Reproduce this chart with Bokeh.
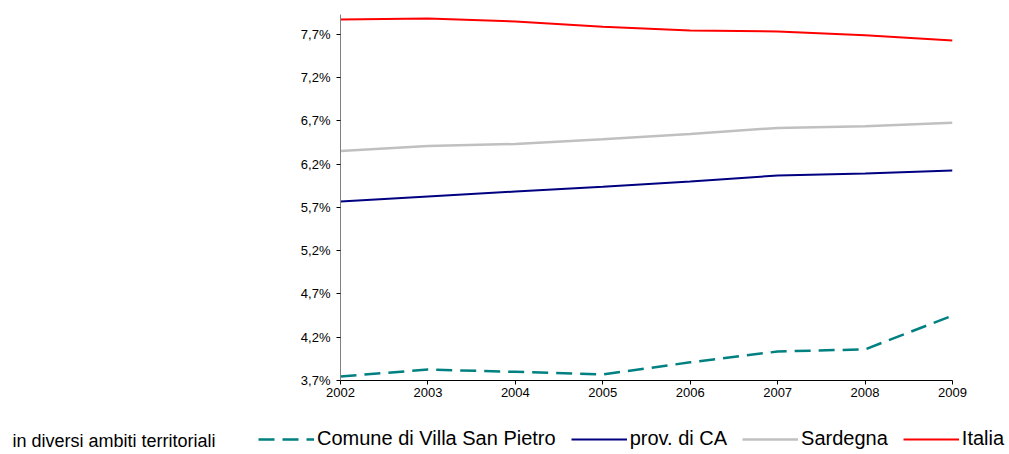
import numpy as np
from bokeh.plotting import figure
from bokeh.layouts import column
from bokeh.models import FixedTicker, Range1d, Legend, LegendItem, Label
from bokeh.embed import file_html
from bokeh.resources import INLINE

years = [2002, 2003, 2004, 2005, 2006, 2007, 2008, 2009]
comune = [3.746, 3.827, 3.800, 3.770, 3.910, 4.035, 4.060, 4.450]
prov_ca = [5.770, 5.827, 5.885, 5.940, 6.000, 6.070, 6.093, 6.128]
sardegna = [6.353, 6.410, 6.434, 6.490, 6.550, 6.620, 6.640, 6.680]
italia = [7.873, 7.885, 7.850, 7.790, 7.746, 7.735, 7.690, 7.630]
y_ticks = [3.7, 4.2, 4.7, 5.2, 5.7, 6.2, 6.7, 7.2, 7.7]
y_labels = ["3,7%", "4,2%", "4,7%", "5,2%", "5,7%", "6,2%", "6,7%", "7,2%", "7,7%"]
series_names = ["Comune di Villa San Pietro", "prov. di CA", "Sardegna", "Italia"]
note_text = "in diversi ambiti territoriali"

FONT = "Liberation Sans"
W = 1007
styles = [dict(line_color="#008080", line_width=2.5, line_dash="16 8"),
          dict(line_color="#000080", line_width=2),
          dict(line_color="#C0C0C0", line_width=2.5),
          dict(line_color="#FF0000", line_width=2)]

p = figure(width=W, height=402, output_backend="svg", toolbar_location=None,
           x_range=Range1d(2002, 2009), y_range=Range1d(3.7, 7.931),
           min_border_left=340, min_border_right=W - 952, min_border_top=14, min_border_bottom=22)
p.outline_line_color = None
p.grid.visible = False
p.frame_align = False

for vals, st in zip([comune, prov_ca, sardegna, italia], styles):
    p.line(years, vals, **st)

p.yaxis.ticker = FixedTicker(ticks=y_ticks)
p.yaxis.major_label_overrides = {t: l for t, l in zip(y_ticks, y_labels)}
p.xaxis.ticker = FixedTicker(ticks=years)
for ax in (p.xaxis, p.yaxis):
    ax.major_label_text_font = FONT
    ax.major_label_text_font_size = "13px"
    ax.major_label_text_color = "#000000"
    ax.minor_tick_line_color = None
    ax.major_tick_in = 0
    ax.major_tick_out = 4
    ax.axis_line_color = "#000000"
    ax.major_tick_line_color = "#000000"
p.yaxis.axis_line_color = "#808080"
p.yaxis.major_label_standoff = 6
p.xaxis.major_label_standoff = 3

# Legend strip (legend glyphs need a renderer; NaN data draws nothing)
q = figure(width=W, height=50, output_backend="svg", toolbar_location=None,
           x_range=Range1d(0, 1), y_range=Range1d(0, 1),
           min_border_left=0, min_border_right=0, min_border_top=0, min_border_bottom=0)
q.outline_line_color = None
q.grid.visible = False
q.axis.visible = False
q.frame_align = False
nan = np.array([np.nan])
rs = [q.line(x=nan, y=nan, **st) for st in styles]

legend = Legend(items=[LegendItem(label=n, renderers=[r]) for n, r in zip(series_names, rs)],
                orientation="horizontal", location=(258, 2),
                glyph_width=56, glyph_height=20, label_standoff=3, spacing=15,
                padding=0, margin=0, border_line_color=None, background_fill_alpha=0,
                label_text_font=FONT, label_text_font_size="20px", label_height=20,
                label_text_color="#000000")
q.add_layout(legend)
q.add_layout(Label(x=12, y=12, x_units="screen", y_units="screen", text=note_text,
                   text_font=FONT, text_font_size="18px", text_baseline="middle",
                   text_color="#000000"))

open("out.html", "w").write(file_html(column(p, q, spacing=0), INLINE))
